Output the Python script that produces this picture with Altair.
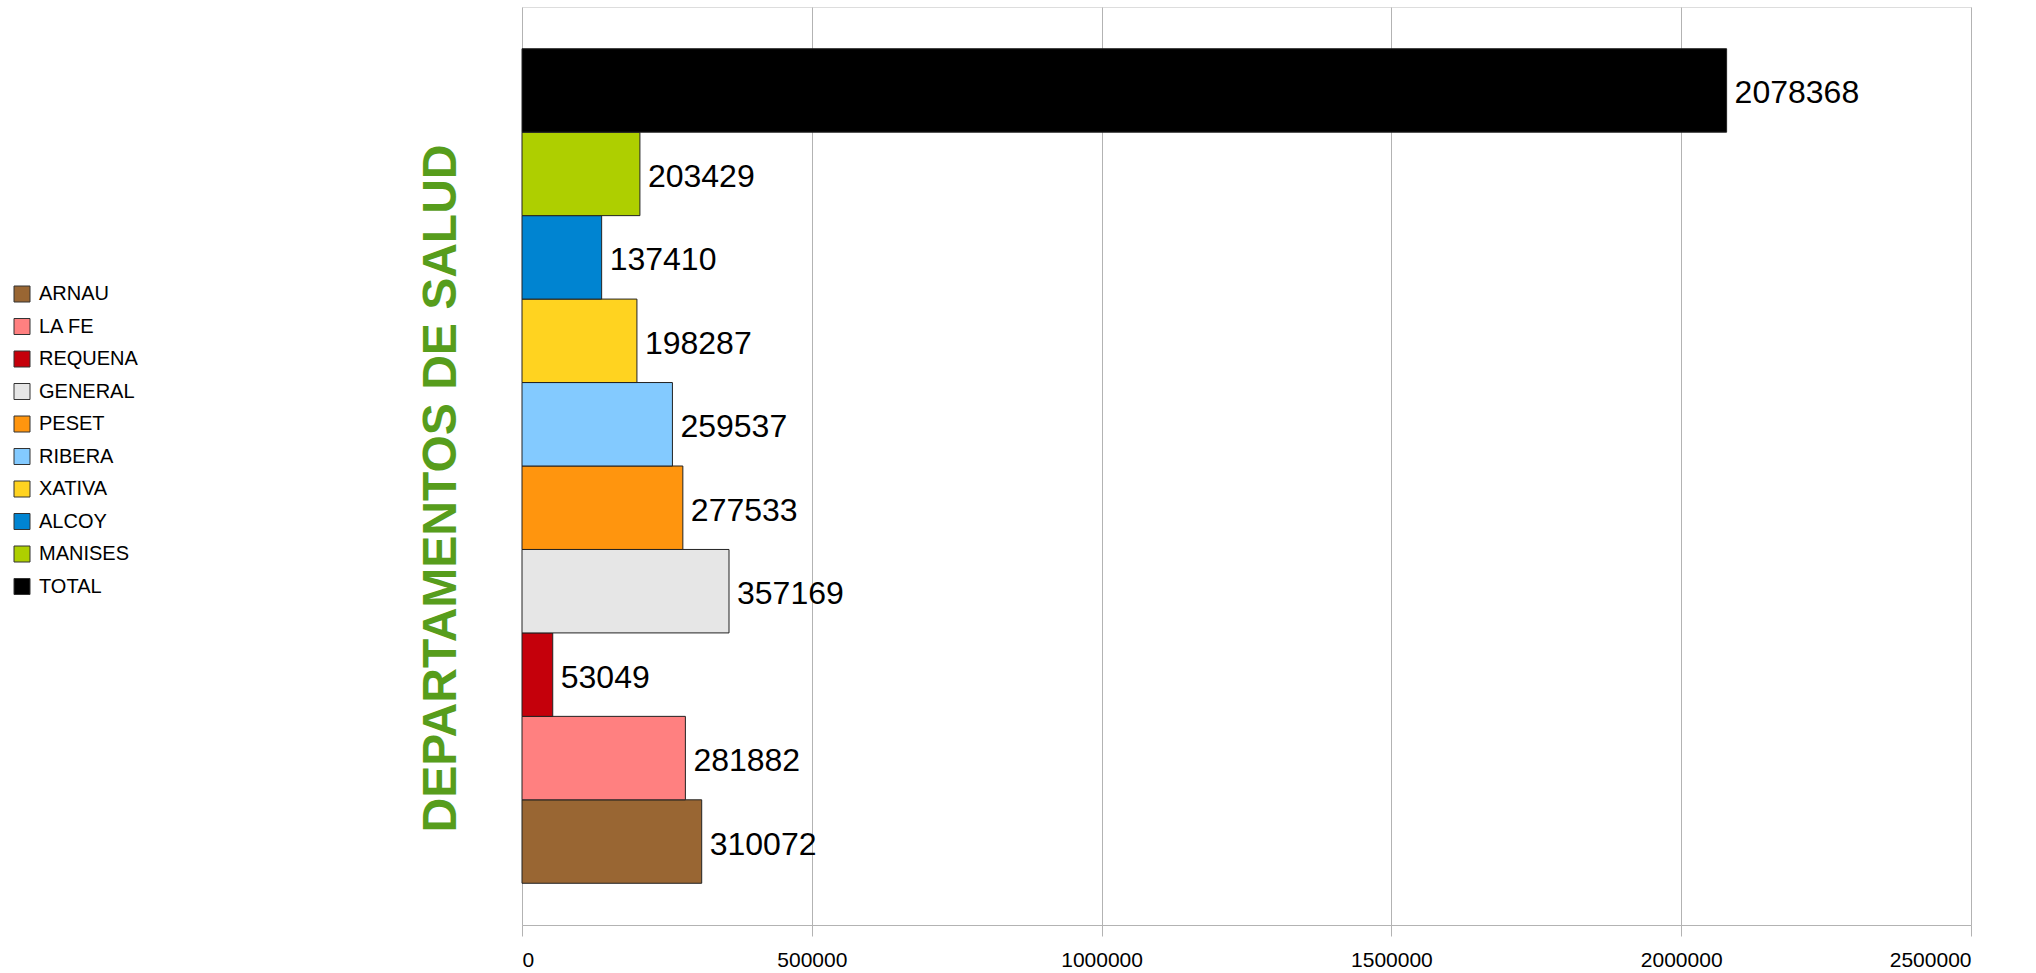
import altair as alt
import pandas as pd

categories = ["ARNAU", "LA FE", "REQUENA", "GENERAL", "PESET", "RIBERA", "XATIVA", "ALCOY", "MANISES", "TOTAL"]
values = [310072, 281882, 53049, 357169, 277533, 259537, 198287, 137410, 203429, 2078368]
colors = ["#996633", "#ff8080", "#c5000b", "#e6e6e6", "#ff950e", "#83caff", "#ffd320", "#0084d1", "#aecf00", "#000000"]
x_ticks = [0, 500000, 1000000, 1500000, 2000000, 2500000]

df = pd.DataFrame({"dept": categories, "value": values})
bar_order = list(reversed(categories))

FONT = "Liberation Sans"

y_enc = alt.Y(
    "dept:N",
    sort=bar_order,
    scale=alt.Scale(paddingInner=0, paddingOuter=0.5),
    axis=alt.Axis(
        title="DEPARTAMENTOS DE SALUD",
        labels=False, ticks=False, domain=False, grid=False,
        titleFont=FONT, titleFontSize=48, titleFontWeight="bold", titleColor="#579d1c",
        titleAngle=270, titleAlign="center", titleBaseline="middle",
        titleX=-81, titleY=481,
    ),
)
x_enc = alt.X(
    "value:Q",
    scale=alt.Scale(domain=[0, 2500000], nice=False),
    axis=alt.Axis(
        title=None, values=x_ticks, format="d",
        grid=True, gridColor="#b3b3b3", gridWidth=1,
        domainColor="#b3b3b3", tickColor="#b3b3b3", tickSize=11,
        labelFont=FONT, labelFontSize=21, labelColor="#000000", labelPadding=13,
    ),
)

bars = alt.Chart(df).mark_bar(stroke="#222222", strokeWidth=1).encode(
    y=y_enc,
    x=x_enc,
    color=alt.Color(
        "dept:N",
        sort=categories,
        scale=alt.Scale(domain=categories, range=colors),
        legend=alt.Legend(
            title=None, orient="none", legendX=-510, legendY=277,
            symbolType="square", symbolSize=256, symbolStrokeColor="#333333", symbolStrokeWidth=1,
            symbolOpacity=1,
            labelFont=FONT, labelFontSize=20, labelColor="#000000", labelOffset=7,
            rowPadding=12.5, padding=0,
        ),
    ),
)

labels = alt.Chart(df).mark_text(
    align="left", baseline="middle", dx=8, dy=3, font=FONT, fontSize=32, color="#000000"
).encode(
    y=alt.Y("dept:N", sort=bar_order),
    x=alt.X("value:Q"),
    text=alt.Text("value:Q", format="d"),
)

chart = alt.layer(bars, labels).properties(
    width=1449, height=918,
    autosize=alt.AutoSizeParams(type="none"),
    padding={"left": 522, "top": 7, "right": 65, "bottom": 48},
).configure_view(stroke="#b3b3b3", strokeWidth=1).configure(background="#ffffff")

chart.save("out.html", embed_options={"renderer": "svg", "actions": False})
